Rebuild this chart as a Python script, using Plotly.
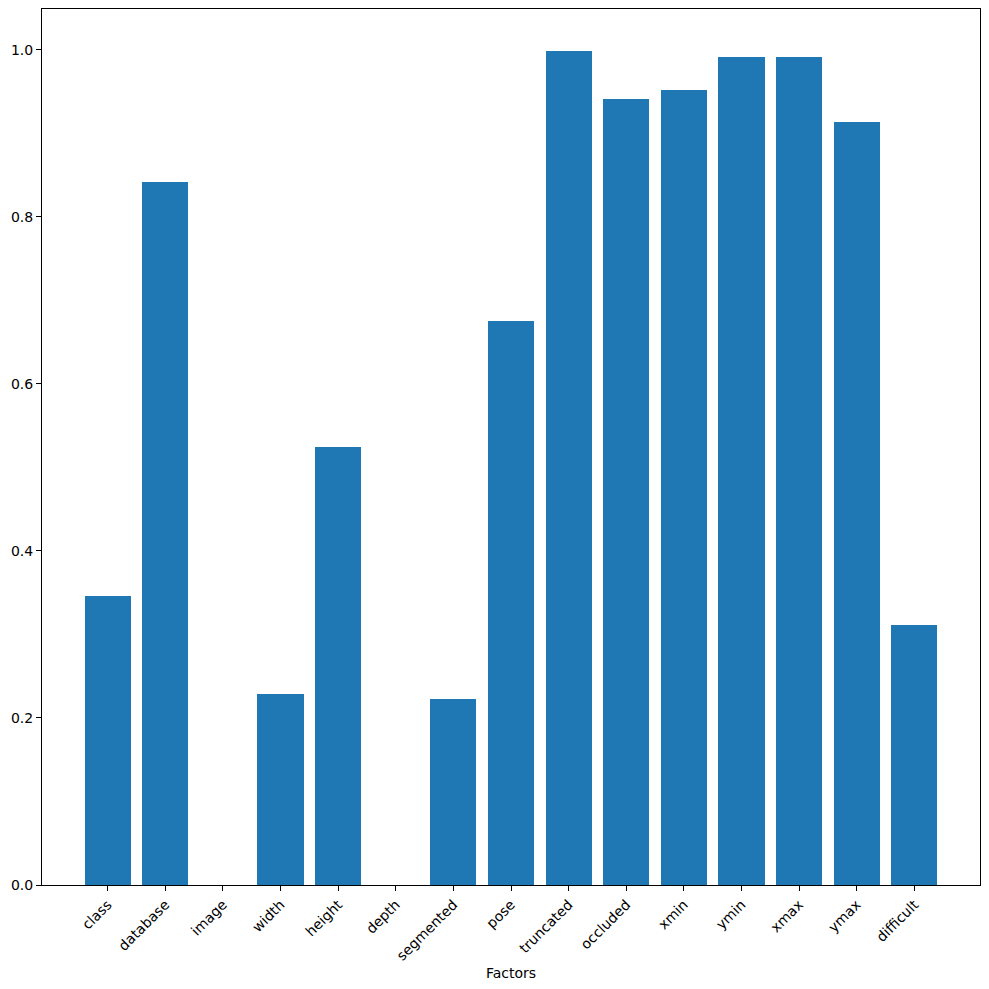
import plotly.graph_objects as go

categories = ["class", "database", "image", "width", "height", "depth", "segmented",
              "pose", "truncated", "occluded", "xmin", "ymin", "xmax", "ymax", "difficult"]
values = [0.346, 0.842, 0.0, 0.229, 0.525, 0.0, 0.223, 0.675, 0.999, 0.941,
          0.952, 0.992, 0.992, 0.914, 0.311]
ytick_vals = [0.0, 0.2, 0.4, 0.6, 0.8, 1.0]
ytick_text = ["0.0", "0.2", "0.4", "0.6", "0.8", "1.0"]

fig = go.Figure()
fig.add_trace(go.Bar(x=list(range(len(categories))), y=values, width=0.8,
                     marker=dict(color="#1f77b4", line=dict(width=0))))

font = dict(family="DejaVu Sans", size=14, color="black")
fig.update_layout(
    width=989, height=989,
    margin=dict(l=42, r=9, t=9, b=104),
    plot_bgcolor="white", paper_bgcolor="white",
    font=font, showlegend=False, bargap=0,
)
fig.update_xaxes(
    range=[-1.14, 15.14], tickmode="array", tickvals=list(range(len(categories))),
    ticktext=categories, tickangle=-45, ticks="outside", ticklen=5, tickwidth=1,
    tickcolor="black", showline=True, linecolor="black", linewidth=1, mirror=True,
    showgrid=False, zeroline=False, tickfont=font,
)
fig.update_yaxes(
    range=[0, 1.049], tickmode="array", tickvals=ytick_vals, ticktext=ytick_text,
    ticks="outside", ticklen=5, tickwidth=1, tickcolor="black", showline=True,
    linecolor="black", linewidth=1, mirror=True, showgrid=False, zeroline=False,
    tickfont=font,
)
fig.add_annotation(text="Factors", x=0.5, y=-0.1, xref="paper", yref="paper",
                   xanchor="center", yanchor="middle", showarrow=False, font=font)
fig.write_html("out.html")
